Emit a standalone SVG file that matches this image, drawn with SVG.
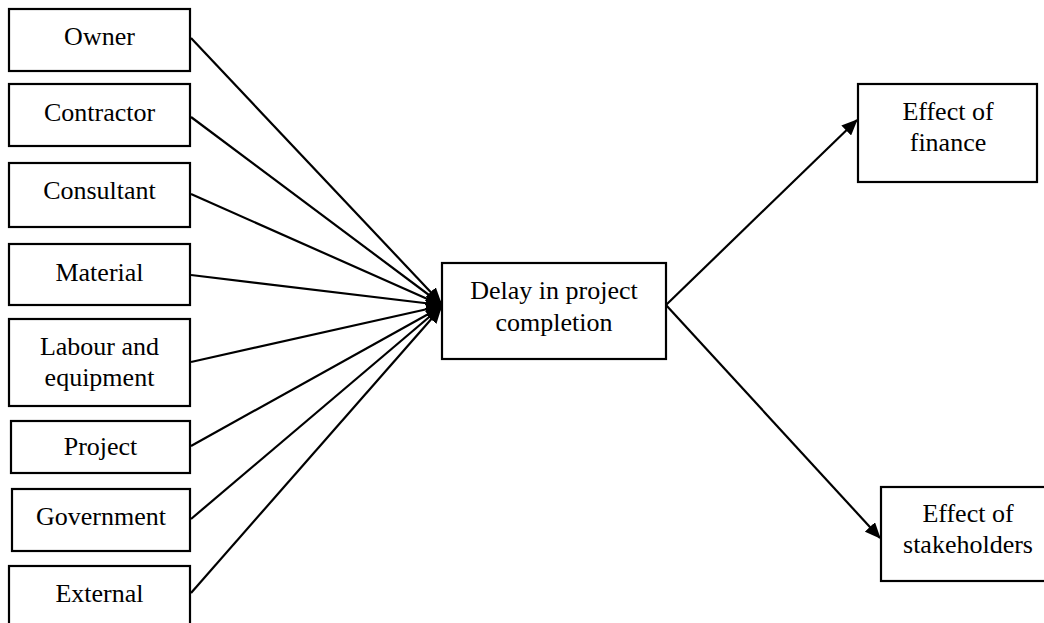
<svg xmlns="http://www.w3.org/2000/svg" width="1044" height="623" viewBox="0 0 1044 623">
<style>
.box{fill:#fff;stroke:#000;stroke-width:2.2}
.lbl{font-family:"Liberation Serif","Times New Roman",serif;font-size:26px;fill:#000;text-anchor:middle}
.edge{stroke:#000;stroke-width:2.2;fill:none;marker-end:url(#ah)}
</style>
<defs>
<marker id="ah" markerUnits="userSpaceOnUse" markerWidth="16" markerHeight="14" refX="15" refY="7" orient="auto">
<path d="M0,0 L16,7 L0,14 Z" fill="#000"/>
</marker>
</defs>
<rect width="1044" height="623" fill="#fff"/>
<g id="connectors">
<line class="edge" x1="191" y1="38" x2="441" y2="303"/>
<line class="edge" x1="191" y1="117" x2="441" y2="304"/>
<line class="edge" x1="191" y1="194" x2="441" y2="305"/>
<line class="edge" x1="191" y1="275" x2="441" y2="305"/>
<line class="edge" x1="191" y1="362" x2="441" y2="306"/>
<line class="edge" x1="191" y1="446" x2="441" y2="307"/>
<line class="edge" x1="191" y1="519" x2="441" y2="307"/>
<line class="edge" x1="191" y1="593" x2="441" y2="308"/>
<line class="edge" x1="666" y1="305" x2="857" y2="120"/>
<line class="edge" x1="666" y1="305" x2="880" y2="538"/>
</g>
<g id="owner"><rect class="box" x="9" y="9" width="181" height="62"/><text class="lbl" x="99.5" y="45">Owner</text></g>
<g id="contractor"><rect class="box" x="9" y="84" width="181" height="62"/><text class="lbl" x="99.5" y="121">Contractor</text></g>
<g id="consultant"><rect class="box" x="9" y="163" width="181" height="64"/><text class="lbl" x="99.5" y="199">Consultant</text></g>
<g id="material"><rect class="box" x="9" y="244" width="181" height="61"/><text class="lbl" x="99.5" y="281">Material</text></g>
<g id="labour"><rect class="box" x="9" y="319" width="181" height="87"/><text class="lbl" x="99.5" y="355">Labour and<tspan x="99.5" y="386">equipment</tspan></text></g>
<g id="project"><rect class="box" x="11" y="421" width="179" height="52"/><text class="lbl" x="100.5" y="455">Project</text></g>
<g id="government"><rect class="box" x="12" y="489" width="178" height="62"/><text class="lbl" x="101" y="525">Government</text></g>
<g id="external"><rect class="box" x="9" y="566" width="181" height="70"/><text class="lbl" x="99.5" y="602">External</text></g>
<g id="delay"><rect class="box" x="442" y="263" width="224" height="96"/><text class="lbl" x="554" y="299">Delay in project<tspan x="554" y="331">completion</tspan></text></g>
<g id="finance"><rect class="box" x="858" y="84" width="179" height="98"/><text class="lbl" x="948" y="120">Effect of<tspan x="948" y="151">finance</tspan></text></g>
<g id="stakeholders"><rect class="box" x="881" y="487" width="180" height="94"/><text class="lbl" x="968" y="522">Effect of<tspan x="968" y="553">stakeholders</tspan></text></g>
</svg>
